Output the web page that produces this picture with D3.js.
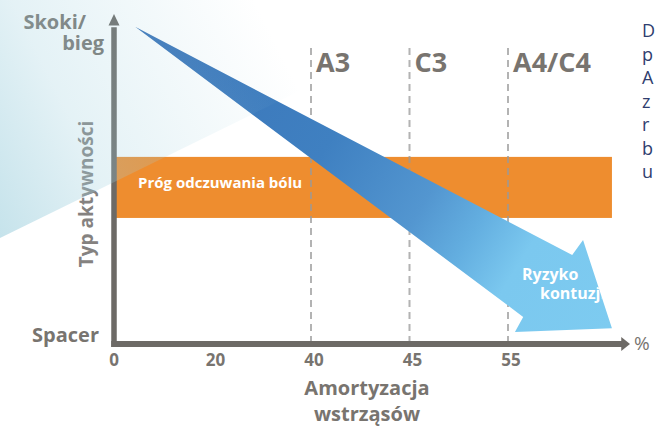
<!DOCTYPE html>
<html lang="pl">
<head>
<meta charset="UTF-8">
<title>Amortyzacja wstrząsów</title>
<style>
  html, body { margin: 0; padding: 0; background: #fff; }
  svg { display: block; font-family: 'Open Sans', 'DejaVu Sans', sans-serif; }
</style>
</head>
<body>
<div id="chart"></div>
<script src="https://d3js.org/d3.v7.min.js"></script>
<script>
// -------- DATA ------------
const xTicks = ["0", "20", "40", "45", "55"]
const yLevels = ["Spacer", "Skoki/bieg"]
const shoeLines = [
  { tick: "40", label: "A3" },
  { tick: "45", label: "C3" },
  { tick: "55", label: "A4/C4" }
]
// pain threshold band, in % of the activity axis
const bandLow = 38.2
const bandHigh = 56.7
// arrow outline (x: % of axis length, y: % of activity axis)
const arrowX = [4.1, 88.8, 90.9, 96.5, 77.7, 79.3]
const arrowY = [96.1, 27.0, 31.5, 4.8, 3.6, 8.2]
// clipped paragraph on the right edge
const sideText = ["D", "p", "A", "z", "r", "b", "u"]

const width = 657, height = 428
const axisGray = '#6d6a66'
const textGray = '#78746f'

const svg = d3.select('#chart').append('svg')
  .attr('width', width)
  .attr('height', height)

// -------- SCALES ------------
const x = d3.scaleLinear().domain([0, 100]).range([114, 630])
const y = d3.scaleLinear().domain([0, 100]).range([344, 14])
const xTick = d3.scalePoint().domain(xTicks).range([114, 508])

const defs = svg.append('defs')

const arrowGrad = defs.append('linearGradient')
  .attr('id', 'arrowGrad')
  .attr('gradientUnits', 'userSpaceOnUse')
  .attr('x1', x(arrowX[0])).attr('y1', y(arrowY[0]))
  .attr('x2', x(arrowX[3])).attr('y2', y(arrowY[3]))
arrowGrad.selectAll('stop')
  .data([[0, '#3a73b7'], [0.4, '#3f80c1'], [0.6, '#5396d0'], [0.7, '#63aee0'], [0.8, '#7bc8ef'], [1, '#7dcbf0']])
  .join('stop')
  .attr('offset', d => d[0])
  .attr('stop-color', d => d[1])

const fadeGrad = defs.append('linearGradient')
  .attr('id', 'fadeGrad')
  .attr('gradientUnits', 'userSpaceOnUse')
  .attr('x1', 0).attr('y1', 240)
  .attr('x2', 300).attr('y2', 90)
fadeGrad.selectAll('stop')
  .data([[0, 0.6], [0.35, 0.28], [1, 0]])
  .join('stop')
  .attr('offset', d => d[0])
  .attr('stop-color', '#9fd0de')
  .attr('stop-opacity', d => d[1])

const arrowPts = arrowX.map((v, i) => [x(v), y(arrowY[i])])
const arrowLine = d3.line()

defs.append('clipPath').attr('id', 'arrowClip')
  .append('path').attr('d', arrowLine(arrowPts) + 'Z')

// -------- BAND ------------
svg.append('rect')
  .attr('x', x(0))
  .attr('y', y(bandHigh))
  .attr('width', x(96.5) - x(0))
  .attr('height', y(bandLow) - y(bandHigh))
  .attr('fill', '#ee8d2f')

svg.append('text')
  .attr('x', 138)
  .attr('y', 188)
  .attr('fill', '#fff')
  .style('font-size', '15px')
  .style('font-weight', 700)
  .text('Próg odczuwania bólu')

// -------- DASHED LINES ------------
svg.selectAll('.shoe-line')
  .data(shoeLines)
  .join('line')
  .attr('class', 'shoe-line')
  .attr('x1', d => xTick(d.tick)).attr('x2', d => xTick(d.tick))
  .attr('y1', 48).attr('y2', y(0))
  .attr('stroke', '#999')
  .attr('stroke-opacity', 0.75)
  .attr('stroke-width', 2)
  .attr('stroke-dasharray', '7,5')

svg.selectAll('.shoe-label')
  .data(shoeLines)
  .join('text')
  .attr('class', 'shoe-label')
  .attr('x', d => xTick(d.tick) + 5)
  .attr('y', 72)
  .attr('fill', textGray)
  .style('font-size', '27px')
  .style('font-weight', 700)
  .text(d => d.label)

// -------- ARROW ------------
svg.append('path')
  .attr('d', arrowLine(arrowPts) + 'Z')
  .attr('fill', 'url(#arrowGrad)')

const risk = svg.append('g').attr('clip-path', 'url(#arrowClip)')
  .attr('fill', '#fff')
  .style('font-size', '16px')
  .style('font-weight', 700)
risk.append('text').attr('x', 522).attr('y', 280).text('Ryzyko')
risk.append('text').attr('x', 540).attr('y', 299).text('kontuzji')

// -------- AXES ------------
svg.append('line')
  .attr('x1', x(0)).attr('x2', x(0))
  .attr('y1', y(0) + 3).attr('y2', y(96))
  .attr('stroke', axisGray).attr('stroke-width', 5.5)
svg.append('path')
  .attr('d', d3.line()([[x(0) - 5.5, y(96.5)], [x(0), y(100)], [x(0) + 5.5, y(96.5)]]) + 'Z')
  .attr('fill', axisGray)

svg.append('line')
  .attr('x1', x(0) - 2.75).attr('x2', x(98.5))
  .attr('y1', y(0)).attr('y2', y(0))
  .attr('stroke', axisGray).attr('stroke-width', 6)
svg.append('path')
  .attr('d', d3.line()([[x(98.3), y(0) - 7], [x(100), y(0)], [x(98.3), y(0) + 7]]) + 'Z')
  .attr('fill', axisGray)

svg.append('text')
  .attr('x', 634).attr('y', 350)
  .attr('fill', textGray)
  .style('font-size', '19px')
  .text('%')

// x tick labels
svg.selectAll('.tick-label')
  .data(xTicks)
  .join('text')
  .attr('class', 'tick-label')
  .attr('x', d => xTick(d) + (d === '0' ? 0 : 3))
  .attr('y', 366)
  .attr('text-anchor', 'middle')
  .attr('fill', textGray)
  .style('font-size', '17px')
  .style('font-weight', 700)
  .text(d => d)

// x title
const xTitle = svg.append('text')
  .attr('text-anchor', 'middle')
  .attr('fill', textGray)
  .style('font-size', '20px')
  .style('font-weight', 700)
xTitle.append('tspan').attr('x', 367).attr('y', 395).text('Amortyzacja')
xTitle.append('tspan').attr('x', 367).attr('y', 421).text('wstrząsów')

// y level labels
const levelY = d3.scalePoint().domain(yLevels).range([342, 50])
svg.append('text')
  .attr('x', 99).attr('y', levelY('Spacer'))
  .attr('text-anchor', 'end')
  .attr('fill', textGray)
  .style('font-size', '20px')
  .style('font-weight', 700)
  .text('Spacer')
const topLabel = svg.append('text')
  .attr('text-anchor', 'end')
  .attr('fill', textGray)
  .style('font-size', '20px')
  .style('font-weight', 700)
topLabel.append('tspan').attr('x', 86).attr('y', levelY('Skoki/bieg') - 21).text('Skoki/')
topLabel.append('tspan').attr('x', 104).attr('y', levelY('Skoki/bieg')).text('bieg')

svg.append('text')
  .attr('transform', 'translate(93, 194) rotate(-90)')
  .attr('text-anchor', 'middle')
  .attr('fill', '#858280')
  .style('font-size', '19px')
  .style('font-weight', 700)
  .text('Typ aktywności')

// -------- LIGHT OVERLAY ------------
svg.append('path')
  .attr('d', 'M0,0 L485,0 L0,238 Z')
  .attr('fill', 'url(#fadeGrad)')

// -------- SIDE PARAGRAPH ------------
svg.selectAll('.side')
  .data(sideText)
  .join('text')
  .attr('class', 'side')
  .attr('x', 642)
  .attr('y', (d, i) => 37 + i * 23.5)
  .attr('fill', '#2f3d6e')
  .style('font-size', '18px')
  .text(d => d)
</script>
</body>
</html>
